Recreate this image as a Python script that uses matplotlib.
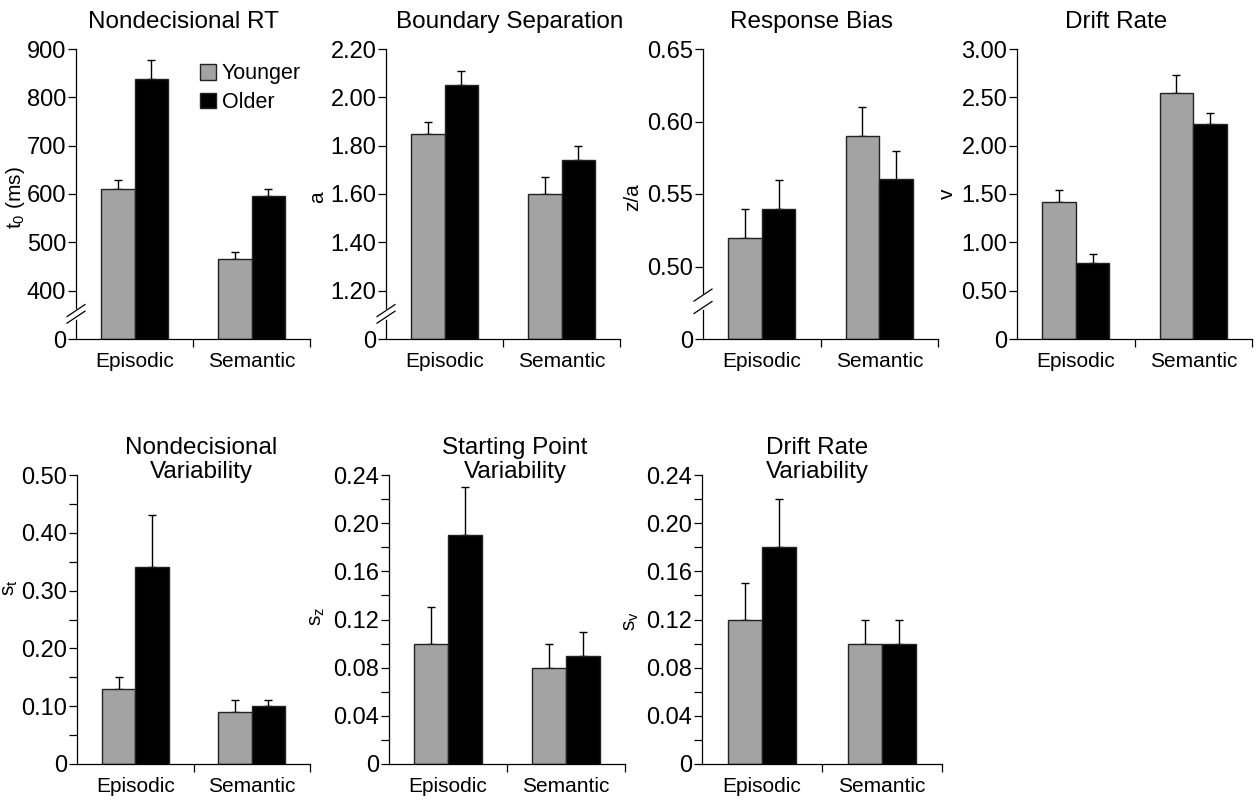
import numpy as np
import matplotlib.pyplot as plt
from matplotlib.patches import Patch
from matplotlib.ticker import MultipleLocator

plt.rcParams['font.family'] = ['Liberation Sans', 'DejaVu Sans']
plt.rcParams['mathtext.fontset'] = 'custom'
plt.rcParams['mathtext.rm'] = 'Liberation Sans'
plt.rcParams['mathtext.it'] = 'Liberation Sans:italic'

# ---------------------------------------------------------------------
# DATA (means and upper error)
# ---------------------------------------------------------------------
conditions = ["Episodic", "Semantic"]
groups = ["Younger", "Older"]

t0_young, t0_young_err = [610, 465], [18, 14]
t0_old, t0_old_err = [837, 596], [40, 14]

a_young, a_young_err = [1.85, 1.60], [0.05, 0.07]
a_old, a_old_err = [2.05, 1.74], [0.06, 0.06]

za_young, za_young_err = [0.52, 0.59], [0.02, 0.02]
za_old, za_old_err = [0.54, 0.56], [0.02, 0.02]

v_young, v_young_err = [1.42, 2.55], [0.12, 0.18]
v_old, v_old_err = [0.79, 2.22], [0.09, 0.12]

st_young, st_young_err = [0.13, 0.09], [0.02, 0.02]
st_old, st_old_err = [0.34, 0.10], [0.09, 0.01]

sz_young, sz_young_err = [0.10, 0.08], [0.03, 0.02]
sz_old, sz_old_err = [0.19, 0.09], [0.04, 0.02]

sv_young, sv_young_err = [0.12, 0.10], [0.03, 0.02]
sv_old, sv_old_err = [0.18, 0.10], [0.04, 0.02]

GRAY = "#a3a3a3"
W, H = 1256, 800

# title, ylabel, first tick, last tick, step, fmt, broken, minor,
# pixel box (l, r, top, bottom), ylabel anchor, title x (axes coords)
panels = [
    ("Nondecisional RT", r"$\mathregular{t_0}$ (ms)", 400, 900, 100, "{:.0f}", True, None,
     (76, 310, 49, 339), (-0.21, 0.487), 0.457,
     t0_young, t0_young_err, t0_old, t0_old_err),
    ("Boundary Separation", "a", 1.20, 2.20, 0.20, "{:.2f}", True, None,
     (386, 620, 49, 339), (-0.252, 0.49), 0.53,
     a_young, a_young_err, a_old, a_old_err),
    ("Response Bias", "z/a", 0.50, 0.65, 0.05, "{:.2f}", True, None,
     (703, 938, 49, 339), (-0.26, 0.49), 0.46,
     za_young, za_young_err, za_old, za_old_err),
    ("Drift Rate", "v", 0.50, 3.00, 0.50, "{:.2f}", False, None,
     (1017, 1252, 49, 339), (-0.255, 0.50), 0.42,
     v_young, v_young_err, v_old, v_old_err),
    ("Nondecisional\nVariability", r"$\mathregular{s_t}$", 0.10, 0.50, 0.10, "{:.2f}", False, 0.05,
     (77, 310, 475, 764), (-0.245, 0.61), 0.532,
     st_young, st_young_err, st_old, st_old_err),
    ("Starting Point\nVariability", r"$\mathregular{s_z}$", 0.04, 0.24, 0.04, "{:.2f}", False, 0.02,
     (389, 625, 475, 764), (-0.263, 0.51), 0.534,
     sz_young, sz_young_err, sz_old, sz_old_err),
    ("Drift Rate\nVariability", r"$\mathregular{s_v}$", 0.04, 0.24, 0.04, "{:.2f}", False, 0.02,
     (702, 942, 475, 764), (-0.254, 0.495), 0.479,
     sv_young, sv_young_err, sv_old, sv_old_err),
]

fig = plt.figure(figsize=(W / 100, H / 100), dpi=100)

x = np.arange(len(conditions))
bw = 0.286

for i, (title, ylab, first, last, step, fmt, broken, minor,
        box, lab_xy, title_x, yv, ye, ov, oe) in enumerate(panels):
    l, r, t, b = box
    ax = fig.add_axes([l / W, 1 - b / H, (r - l) / W, (b - t) / H])

    base = first - step  # position of the "0" tick
    ax.set_xlim(-0.5, 1.5)
    ax.set_ylim(base, last)

    bars_kw = dict(width=bw, edgecolor="#222222", linewidth=1.0, zorder=2)
    if broken:
        ax.bar(x - bw / 2, np.array(yv) - base, bottom=base, color=GRAY, **bars_kw)
        ax.bar(x + bw / 2, np.array(ov) - base, bottom=base, color="black", **bars_kw)
    else:
        ax.bar(x - bw / 2, yv, color=GRAY, **bars_kw)
        ax.bar(x + bw / 2, ov, color="black", **bars_kw)

    err_kw = dict(fmt="none", ecolor="black", elinewidth=1.0, capsize=3,
                  capthick=1.0, zorder=1)
    ax.errorbar(x - bw / 2, yv, yerr=[np.zeros(2), ye], **err_kw)
    ax.errorbar(x + bw / 2, ov, yerr=[np.zeros(2), oe], **err_kw)

    # y ticks
    n = int(round((last - base) / step))
    ticks = [base + k * step for k in range(n + 1)]
    labels = ["0"] + [fmt.format(v) for v in ticks[1:]]
    ax.set_yticks(ticks, labels)
    if minor:
        ax.yaxis.set_minor_locator(MultipleLocator(minor))
    ax.tick_params(axis="y", which="both", direction="out", length=6, width=0.9,
                   pad=1, labelsize=17)

    # x ticks: labels at groups, separators between
    ax.set_xticks(x, conditions)
    ax.set_xticks([0.5, 1.5], minor=True)
    ax.tick_params(axis="x", which="major", length=0, pad=9, labelsize=15)
    ax.tick_params(axis="x", which="minor", direction="out", length=6, width=0.9)

    for s in ("top", "right"):
        ax.spines[s].set_visible(False)
    for s in ("left", "bottom"):
        ax.spines[s].set_linewidth(0.9)

    ax.set_ylabel(ylab, fontsize=15)
    ax.yaxis.set_label_coords(*lab_xy)

    if i < 4:
        ax.set_title(title, fontsize=17.5, pad=15, x=title_x)
    else:
        ax.set_title(title, fontsize=17.5, pad=0, x=title_x, y=0.972,
                     va="bottom", linespacing=1.15)

    if broken:
        px_per_unit = (b - t) / (last - base)
        lo = base + 0.40 * step
        hi = base + 0.64 * step
        ax.spines["left"].set_bounds(hi, last)
        tr = ax.get_yaxis_transform()
        ax.plot([0, 0], [base, lo], color="black", lw=0.9, transform=tr,
                clip_on=False, zorder=3)
        dx = 9 / (r - l)
        dy = 6 / px_per_unit
        for yc in (lo + 2.5 / px_per_unit, hi - 2.5 / px_per_unit):
            ax.plot([-dx, dx], [yc - dy, yc + dy], color="black", lw=0.9,
                    transform=tr, clip_on=False, zorder=3)

    if i == 0:
        handles = [Patch(facecolor=GRAY, edgecolor="#222222", linewidth=1.0),
                   Patch(facecolor="black", edgecolor="#222222", linewidth=1.0)]
        ax.legend(handles, groups, loc="upper left", bbox_to_anchor=(0.53, 0.95),
                  frameon=False, fontsize=15.5, handlelength=0.75, handleheight=0.7,
                  handletextpad=0.25, labelspacing=0.35, borderpad=0,
                  borderaxespad=0)

fig.savefig("out.png", dpi=100)
